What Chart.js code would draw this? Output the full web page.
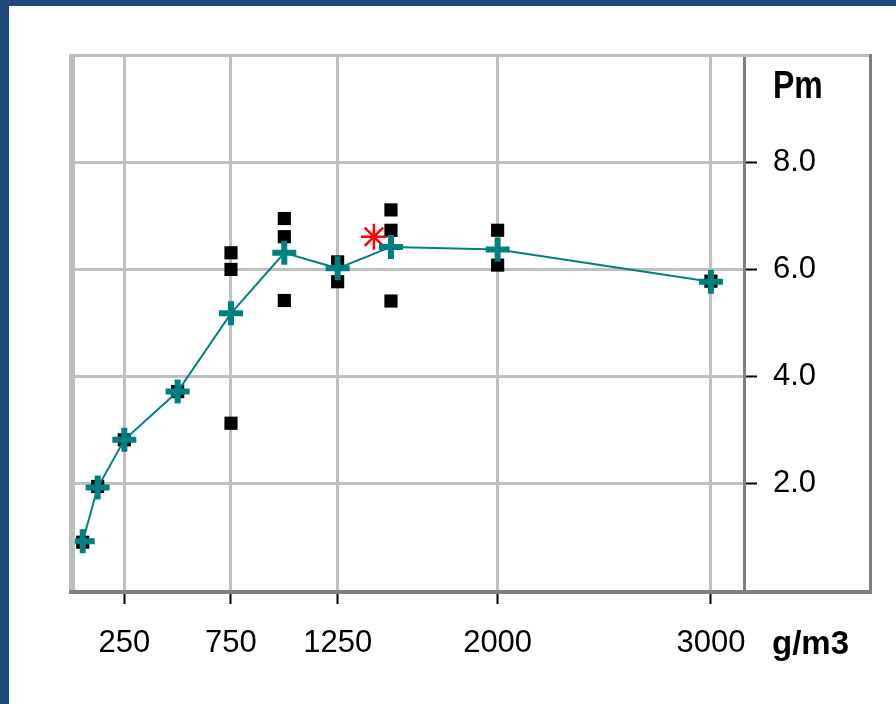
<!DOCTYPE html>
<html>
<head>
<meta charset="utf-8">
<script src="https://cdn.jsdelivr.net/npm/chart.js@4"></script>
<style>
  html, body { margin: 0; padding: 0; background: #ffffff; }
  #wrap { position: relative; width: 896px; height: 704px; overflow: hidden; }
  #c { position: absolute; left: 0; top: 0; }
  .blue { position: absolute; background: #1F497D; }
</style>
</head>
<body>
<div id="wrap">
  <canvas id="c" width="896" height="704"></canvas>
  <div class="blue" style="left:0;top:0;width:896px;height:6px;"></div>
  <div class="blue" style="left:0;top:0;width:9px;height:704px;"></div>
</div>
<script>
// ---- data ----
const meanX = [55, 125, 250, 500, 750, 1000, 1250, 1500, 2000, 3000];
const meanY = [0.93, 1.93, 2.82, 3.72, 5.18, 6.31, 6.02, 6.42, 6.37, 5.77];

const obsX = [55, 125, 250, 500, 750, 750, 750, 1000, 1000, 1000, 1250, 1250, 1500, 1500, 1500, 2000, 2000, 3000];
const obsY = [0.91, 1.95, 2.82, 3.72, 6.31, 6.00, 3.13, 6.95, 6.61, 5.42, 6.14, 5.77, 7.11, 6.73, 5.41, 6.73, 6.08, 5.78];

const optX = [1420];
const optY = [6.61];

const xTickValues = [250, 750, 1250, 2000, 3000];
const yTickValues = [2, 4, 6, 8];
const xUnit = 'g/m3';
const yUnit = 'Pm';

const toPts = (xs, ys) => xs.map((x, i) => ({ x: x, y: ys[i] }));

const framePlugin = {
  id: 'frame',
  afterDraw(chart) {
    const ctx = chart.ctx;
    const a = chart.chartArea;
    const ys = chart.scales.y;
    const outerRight = ys.right;
    ctx.save();
    ctx.fillStyle = '#BEBEBE';
    ctx.fillRect(a.left - 2, a.top - 1, outerRight - a.left + 2, 3);
    ctx.fillRect(a.left - 2, a.top - 1, 6, a.bottom - a.top + 1);
    ctx.fillStyle = '#808080';
    ctx.fillRect(a.left - 2, a.bottom - 1, outerRight - a.left + 2, 4);
    ctx.fillRect(outerRight - 2, a.top - 1, 3, a.bottom - a.top + 4);
    ctx.fillStyle = '#000000';
    ctx.textAlign = 'left';
    ctx.textBaseline = 'middle';
    ctx.save();
    ctx.translate(a.right + 29, a.top + 32);
    ctx.scale(1, 1.2);
    ctx.font = 'bold 32px "Liberation Sans", Arial, sans-serif';
    ctx.fillText(yUnit, 0, 0);
    ctx.restore();
    ctx.font = 'bold 33px "Liberation Sans", Arial, sans-serif';
    ctx.fillText(xUnit, a.right + 28, a.bottom + 54);
    ctx.restore();
  }
};

new Chart(document.getElementById('c'), {
  type: 'scatter',
  data: {
    datasets: [
      {
        label: 'mean',
        data: toPts(meanX, meanY),
        showLine: true,
        borderColor: '#008080',
        borderWidth: 2,
        tension: 0,
        pointStyle: 'cross',
        pointRadius: 12,
        pointBorderWidth: 6,
        pointBorderColor: '#008080',
        pointBackgroundColor: '#008080',
        order: 1
      },
      {
        label: 'obs',
        data: toPts(obsX, obsY),
        showLine: false,
        pointStyle: 'rect',
        pointRadius: 9.3,
        pointBorderWidth: 0,
        pointBackgroundColor: '#000000',
        pointBorderColor: '#000000',
        order: 3
      },
      {
        label: 'opt',
        data: toPts(optX, optY),
        showLine: false,
        pointStyle: 'star',
        pointRadius: 13,
        pointBorderWidth: 2.5,
        pointBorderColor: '#FF0000',
        pointBackgroundColor: '#FF0000',
        order: 2
      }
    ]
  },
  options: {
    responsive: false,
    animation: false,
    events: [],
    layout: { padding: { left: 71, top: 55, right: 25, bottom: 0 } },
    plugins: { legend: { display: false }, tooltip: { enabled: false } },
    scales: {
      x: {
        type: 'linear',
        min: 0,
        max: 3155,
        afterBuildTicks(scale) { scale.ticks = xTickValues.map(v => ({ value: v })); },
        afterFit(scale) { scale.height = 113; },
        grid: {
          color: '#C0C0C0',
          lineWidth: 3,
          drawTicks: true,
          tickLength: 13,
          tickColor: '#000000',
          tickWidth: 2
        },
        border: { display: false },
        ticks: {
          padding: 21,
          color: '#000000',
          maxRotation: 0,
          autoSkip: false,
          font: { family: '"Liberation Sans", Arial, sans-serif', size: 31 },
          callback: v => String(v)
        }
      },
      y: {
        type: 'linear',
        position: 'right',
        min: 0,
        max: 10,
        afterBuildTicks(scale) { scale.ticks = yTickValues.map(v => ({ value: v })); },
        afterFit(scale) { scale.width = 127; },
        grid: {
          color: '#C0C0C0',
          lineWidth: 3,
          drawTicks: true,
          tickLength: 13,
          tickColor: '#000000',
          tickWidth: 2
        },
        border: { display: true, color: '#808080', width: 3 },
        ticks: {
          padding: 16,
          color: '#000000',
          autoSkip: false,
          font: { family: '"Liberation Sans", Arial, sans-serif', size: 31 },
          callback: v => Number(v).toFixed(1)
        }
      }
    }
  },
  plugins: [framePlugin]
});
</script>
</body>
</html>
